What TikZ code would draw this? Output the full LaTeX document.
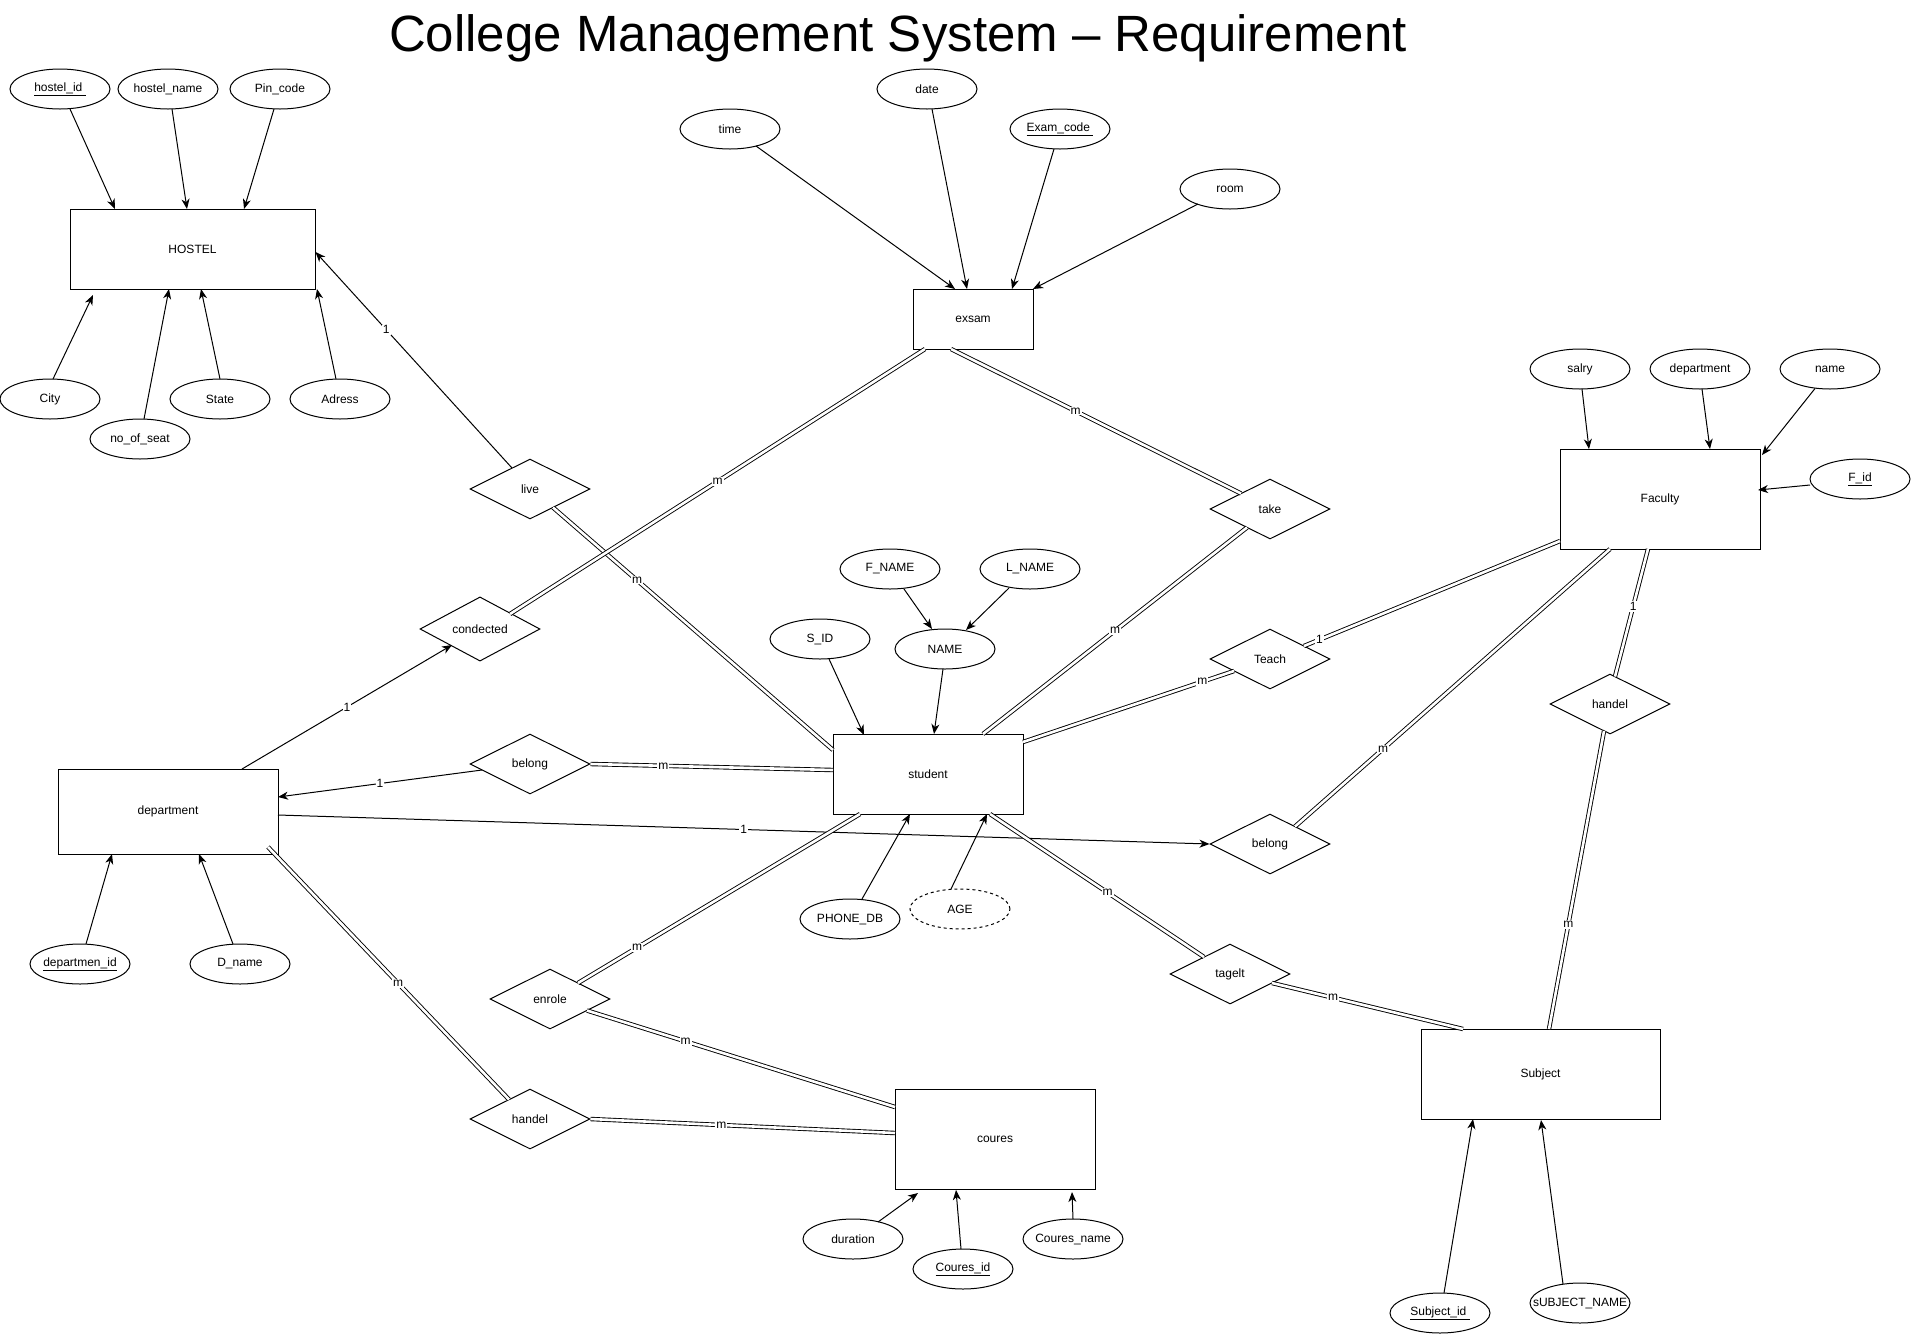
\documentclass[tikz,border=0pt]{standalone}
\usepackage{fontspec}
\setmainfont{Liberation Sans}
\usetikzlibrary{shapes.geometric,arrows.meta,calc}
\begin{document}
\begin{tikzpicture}[x=1pt,y=-1pt,
  every node/.style={font=\fontsize{12}{14}\selectfont},
  ent/.style={draw,rectangle,inner sep=0pt,line width=1pt},
  attr/.style={draw,ellipse,minimum width=100pt,minimum height=40pt,inner xsep=-16pt,inner ysep=0pt,line width=1pt},
  rel/.style={draw,diamond,minimum width=120pt,minimum height=60pt,inner sep=0pt,line width=1pt},
  ar/.style={line width=1pt,-{Stealth[length=10pt,width=8pt,inset=3pt]}},
  dl/.style={double,double distance=2.6pt,line width=0.9pt},
  sl/.style={line width=1pt},
  lbl/.style={fill=white,inner sep=1pt,font=\fontsize{12}{13}\selectfont}]
\fill[white] (0,0) rectangle (1912,1334);
\useasboundingbox (0,0) rectangle (1912,1334);

\node[font=\fontsize{51}{60}\selectfont] (title) at (898,38) {College Management System – Requirement};

% entities
\node[ent,minimum width=245pt,minimum height=80pt] (hostel) at (192.5,249) {HOSTEL};
\node[ent,minimum width=120pt,minimum height=60pt] (exsam) at (973,319) {exsam};
\node[ent,minimum width=200pt,minimum height=100pt] (faculty) at (1660,499) {Faculty};
\node[ent,minimum width=190pt,minimum height=80pt] (student) at (928,774) {student};
\node[ent,minimum width=220pt,minimum height=85pt] (dept) at (168,811.5) {department};
\node[ent,minimum width=200pt,minimum height=100pt] (coures) at (995,1139) {coures};
\node[ent,minimum width=239pt,minimum height=90pt] (subject) at (1540.5,1074) {Subject};

% relationships
\node[rel] (live) at (530,489) {live};
\node[rel] (cond) at (480,629) {condected};
\node[rel] (take) at (1270,509) {take};
\node[rel] (teach) at (1270,659) {Teach};
\node[rel] (belr) at (1270,844) {belong};
\node[rel] (handr) at (1610,704) {handel};
\node[rel] (bell) at (530,764) {belong};
\node[rel] (enrole) at (550,999) {enrole};
\node[rel] (handl) at (530,1119) {handel};
\node[rel] (tagelt) at (1230,974) {tagelt};

% attributes
\node[attr] (hid) at (60,89) {\underline{hostel\_id\ }};
\node[attr] (hname) at (168,89) {hostel\_name};
\node[attr] (pin) at (280,89) {Pin\_code};
\node[attr] (city) at (50,399) {City};
\node[attr] (seat) at (140,439) {no\_of\_seat};
\node[attr] (state) at (220,399) {State};
\node[attr] (adr) at (340,399) {Adress};
\node[attr] (time) at (730,129) {time};
\node[attr] (date) at (927,89) {date};
\node[attr] (ecode) at (1060,129) {\underline{Exam\_code\ }};
\node[attr] (room) at (1230,189) {room};
\node[attr] (salry) at (1580,369) {salry};
\node[attr] (fdept) at (1700,369) {department};
\node[attr] (fname) at (1830,369) {name};
\node[attr] (fid) at (1860,479) {\underline{F\_id}};
\node[attr] (fn) at (890,569) {F\_NAME};
\node[attr] (ln) at (1030,569) {L\_NAME};
\node[attr] (sid) at (820,639) {S\_ID};
\node[attr] (nm) at (945,649) {NAME};
\node[attr] (phone) at (850,919) {PHONE\_DB};
\node[attr,dashed,dash pattern=on 3pt off 3pt] (age) at (960,909) {AGE};
\node[attr] (did) at (80,964) {\underline{departmen\_id}};
\node[attr] (dname) at (240,964) {D\_name};
\node[attr] (dur) at (853,1239) {duration};
\node[attr] (cid) at (963,1269) {\underline{Coures\_id}};
\node[attr] (cname) at (1073,1239) {Coures\_name};
\node[attr] (subid) at (1440,1313) {\underline{Subject\_id\ }};
\node[attr] (subname) at (1580,1303) {sUBJECT\_NAME};

% attribute arrows
\draw[ar] ($(hid)+(10,20)$) -- ($(hostel)+(-77.5,-40)$);
\draw[ar] ($(hname)+(4,20)$) -- ($(hostel)+(-5.5,-40)$);
\draw[ar] ($(pin)+(-6,20)$) -- ($(hostel)+(51.5,-40)$);
\draw[ar] ($(city)+(3,-20)$) -- ($(hostel)+(-99.5,46)$);
\draw[ar] ($(seat)+(4,-20)$) -- ($(hostel)+(-23.5,40)$);
\draw[ar] ($(state)+(0,-20)$) -- ($(hostel)+(8.5,40)$);
\draw[ar] ($(adr)+(-4,-20)$) -- ($(hostel)+(124.5,40)$);
\draw[ar] ($(time)+(26,17)$) -- ($(exsam)+(-18,-30)$);
\draw[ar] ($(date)+(5,20)$) -- ($(exsam)+(-6,-30)$);
\draw[ar] ($(ecode)+(-6,20)$) -- ($(exsam)+(39,-30)$);
\draw[ar] ($(room)+(-32,15)$) -- ($(exsam)+(60,-30)$);
\draw[ar] ($(salry)+(2,20)$) -- ($(faculty)+(-71,-50)$);
\draw[ar] ($(fdept)+(2,20)$) -- ($(faculty)+(50,-50)$);
\draw[ar] ($(fname)+(-15,19.5)$) -- ($(faculty)+(102,-44)$);
\draw[ar] ($(fid)+(-50,6)$) -- ($(faculty)+(98,-9)$);
\draw[ar] ($(fn)+(14,20)$) -- ($(nm)+(-13,-20)$);
\draw[ar] ($(ln)+(-21,19)$) -- ($(nm)+(21,-19)$);
\draw[ar] ($(sid)+(9,20)$) -- ($(student)+(-64,-39)$);
\draw[ar] ($(nm)+(-2,20)$) -- ($(student)+(6,-40)$);
\draw[ar] ($(phone)+(12,-20)$) -- ($(student)+(-18,40)$);
\draw[ar] ($(age)+(-9,-20)$) -- ($(student)+(59,40)$);
\draw[ar] ($(did)+(6,-20)$) -- ($(dept)+(-56,42.5)$);
\draw[ar] ($(dname)+(-7,-20)$) -- ($(dept)+(31,42.5)$);
\draw[ar] ($(dur)+(25,-17)$) -- ($(coures)+(-77,54)$);
\draw[ar] ($(cid)+(-2,-20)$) -- ($(coures)+(-39,51)$);
\draw[ar] ($(cname)+(0,-20)$) -- ($(coures)+(77,53)$);
\draw[ar] ($(subid)+(4,-20)$) -- ($(subject)+(-67.5,45)$);
\draw[ar] ($(subname)+(-17,-19)$) -- ($(subject)+(0.5,46)$);

% relationship connectors
\draw[ar] ($(live)+(-18,-21)$) -- node[lbl,pos=0.64]{1} ($(hostel.east)+(0,3)$);
\draw[dl] ($(live)+(23,18.5)$) -- node[lbl,pos=0.3]{m} ($(student)+(-95,-24)$);
\draw[dl] ($(cond)+(30,-15)$) -- node[lbl,pos=0.5]{m} ($(exsam)+(-48,30)$);
\draw[ar] ($(dept)+(74,-42.5)$) -- node[lbl,pos=0.5]{1} ($(cond)+(-28,16)$);
\draw[dl] ($(exsam)+(-22,30)$) -- node[lbl,pos=0.43]{m} ($(take)+(-29,-15.5)$);
\draw[dl] ($(take)+(-23,18.5)$) -- node[lbl,pos=0.5]{m} ($(student)+(55,-40)$);
\draw[dl] ($(teach)+(34,-13)$) -- node[lbl,pos=0.06]{1} ($(faculty)+(-100,42)$);
\draw[dl] ($(teach)+(-36,12)$) -- node[lbl,pos=0.15]{m} ($(student)+(95,-32)$);
\draw[dl] ($(faculty)+(-50,50)$) -- node[lbl,pos=0.72]{m} ($(belr)+(25,-17.5)$);
\draw[dl] ($(faculty)+(-12,50)$) -- node[lbl,pos=0.45]{1} ($(handr)+(5,-27.5)$);
\draw[dl] ($(handr)+(-6,27)$) -- node[lbl,pos=0.65]{m} ($(subject)+(8.5,-45)$);
\draw[ar] ($(bell)+(-48,6)$) -- node[lbl,pos=0.5]{1} ($(dept)+(110,-14.5)$);
\draw[dl] (bell.east) -- node[lbl,pos=0.3]{m} ($(student)+(-95,-4)$);
\draw[ar] ($(dept)+(110,3.5)$) -- node[lbl,pos=0.5]{1} (belr.west);
\draw[dl] ($(dept)+(100,35.5)$) -- node[lbl,pos=0.54]{m} ($(handl)+(-21,-19.5)$);
\draw[dl] (handl.east) -- node[lbl,pos=0.43]{m} ($(coures)+(-100,-6)$);
\draw[dl] ($(enrole)+(37,11.5)$) -- node[lbl,pos=0.32]{m} ($(coures)+(-100,-32)$);
\draw[dl] ($(student)+(-68,40)$) -- node[lbl,pos=0.79]{m} ($(enrole)+(28,-16)$);
\draw[dl] ($(student)+(62,40)$) -- node[lbl,pos=0.55]{m} ($(tagelt)+(-26,-17)$);
\draw[dl] ($(tagelt)+(42,9)$) -- node[lbl,pos=0.32]{m} ($(subject)+(-77.5,-45)$);
\end{tikzpicture}
\end{document}
